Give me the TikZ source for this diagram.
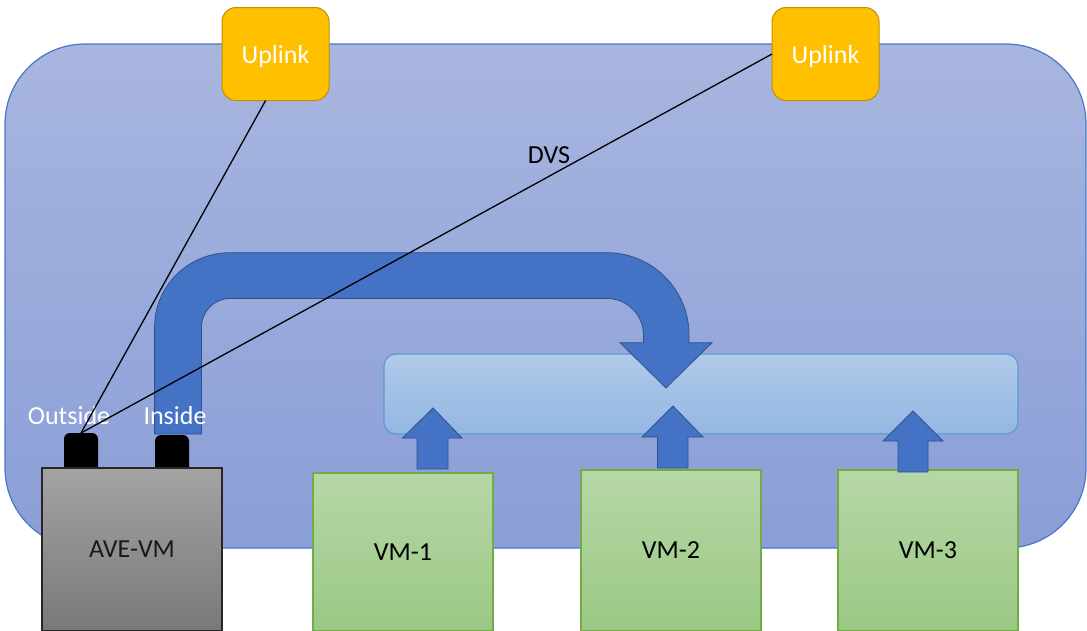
\documentclass[tikz,border=0pt]{standalone}
\usepackage{fontspec}
\setmainfont{Carlito}
\definecolor{swtop}{HTML}{A8B6DF}
\definecolor{swbot}{HTML}{8A9ED7}
\definecolor{swline}{HTML}{4A76C6}
\definecolor{uplfill}{HTML}{FFC000}
\definecolor{uplline}{HTML}{BF9000}
\definecolor{flowfill}{HTML}{4472C4}
\definecolor{flowline}{HTML}{2F528F}
\definecolor{hubtop}{HTML}{B1CAE9}
\definecolor{hubbot}{HTML}{93B7E2}
\definecolor{hubline}{HTML}{5B9BD5}
\definecolor{vmtop}{HTML}{B6D7A6}
\definecolor{vmbot}{HTML}{9BC884}
\definecolor{vmline}{HTML}{70AD47}
\definecolor{avetop}{HTML}{A4A4A4}
\definecolor{avebot}{HTML}{787878}
\begin{document}
\begin{tikzpicture}[x=1pt,y=-1pt,
  txt/.style={font=\fontsize{26}{31}\selectfont},
  switchbg/.style={draw=swline,line width=1.2pt,top color=swtop,bottom color=swbot,rounded corners=80pt},
  uplinkbox/.style={txt,text=white,text depth=0pt,draw=uplline,line width=1pt,fill=uplfill,rounded corners=14pt,
    minimum width=107pt,minimum height=93pt,inner sep=0pt,outer sep=0pt},
  hubbox/.style={draw=hubline,line width=1.2pt,top color=hubtop,bottom color=hubbot,rounded corners=12pt,
    minimum width=634pt,minimum height=80pt,inner sep=0pt,outer sep=0pt},
  flow/.style={draw=flowline,line width=0.8pt,fill=flowfill},
  vmbox/.style={txt,draw=vmline,line width=1.2pt,top color=vmtop,bottom color=vmbot,
    minimum width=180pt,inner sep=0pt,outer sep=0pt},
  avebox/.style={txt,text=black!90,draw=black!85,line width=1.5pt,top color=avetop,bottom color=avebot,
    minimum width=180pt,minimum height=163pt,inner sep=0pt,outer sep=0pt},
  port/.style={fill=black,rounded corners=6pt,minimum width=34pt,minimum height=40pt,inner sep=0pt,outer sep=0pt},
  portlabel/.style={txt,text=white,inner sep=0pt},
  wire/.style={draw=black,line width=1.3pt}]
\useasboundingbox (0,0) rectangle (1087,630);
\clip (0,0) rectangle (1087,630);

% distributed virtual switch
\path[switchbg] (5,44) rectangle (1086,548);
\node[txt,text=black,inner sep=0pt] (dvs) at (549,155) {DVS};

% internal switching area
\node[hubbox] (hub) at (701,394) {};

% traffic redirected from the appliance into the switch
\path[flow] (154.6,434) -- (154.6,327)
  .. controls (154.6,285.6) and (188.6,252.7) .. (230,252.7) -- (607,252.7)
  .. controls (652.3,252.7) and (689,289.7) .. (689,335) -- (689,342.7)
  -- (712,342.7) -- (666,388) -- (620,342.7) -- (643.5,342.7) -- (643.5,335)
  .. controls (643.5,314.8) and (627.2,298.5) .. (607,298.5) -- (230,298.5)
  .. controls (214.3,298.5) and (201.5,311.3) .. (201.5,327) -- (201.5,434) -- cycle;

% guest virtual machines
\node[vmbox,minimum height=158pt] (vm1) at (403,552) {VM-1};
\node[vmbox,minimum height=161pt] (vm2) at (671,550.5) {VM-2};
\node[vmbox,minimum height=161pt] (vm3) at (928,550.5) {VM-3};

% VM traffic into the switch
\path[flow] (433,408) -- (462,438) -- (448,438) -- (448,469) -- (417,469) -- (417,438) -- (402.5,438) -- cycle;
\path[flow] (673,406) -- (703,437) -- (688,437) -- (688,468) -- (657.5,468) -- (657.5,437) -- (642,437) -- cycle;
\path[flow] (913,411) -- (943,441) -- (928,441) -- (928,472) -- (898,472) -- (898,441) -- (883,441) -- cycle;

% appliance with its two interfaces
\node[port] (outport) at (81,453) {};
\node[port] (inport) at (172,455) {};
\node[avebox] (ave) at (132,549.5) {AVE-VM};
\node[portlabel] (outlbl) at (69,416) {Outside};
\node[portlabel] (inlbl) at (175,416) {Inside};

% physical uplinks
\node[uplinkbox] (up1) at (275.5,54) {Uplink};
\node[uplinkbox] (up2) at (825.5,54) {Uplink};

% outside interface wiring to the uplinks
\draw[wire] (outport.north) -- (up1.258);
\draw[wire] (outport.north) -- (up2.west);
\end{tikzpicture}
\end{document}
